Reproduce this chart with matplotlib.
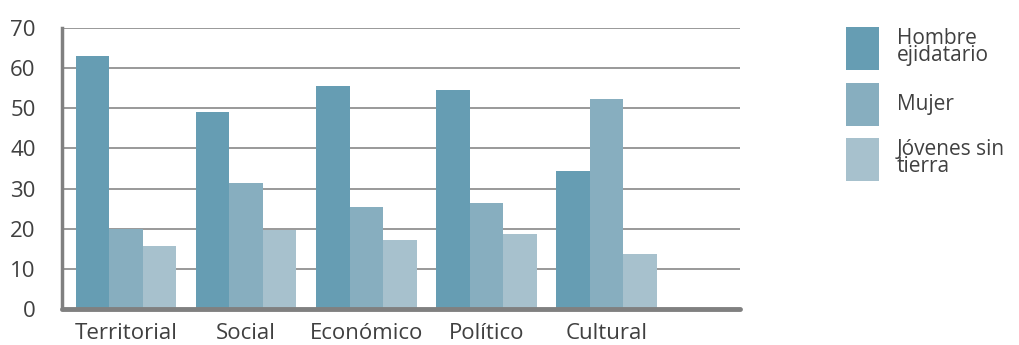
import matplotlib
matplotlib.use("Agg")
import matplotlib.pyplot as plt
import numpy as np

# values
categories = ["Territorial", "Social", "Económico", "Político", "Cultural"]
series_names = ["Hombre\nejidatario", "Mujer", "Jóvenes sin\ntierra"]
hombre = [63, 49, 55.5, 54.5, 34.5]
mujer = [20, 31.3, 25.5, 26.5, 52.3]
jovenes = [15.8, 19.8, 17.3, 18.8, 13.8]
y_ticks = [0, 10, 20, 30, 40, 50, 60, 70]

colors = ["#669db3", "#87aebf", "#a7c1cd"]
text_color = "#404040"
axis_gray = "#808080"

plt.rcParams["font.family"] = ["Open Sans", "DejaVu Sans"]

fig = plt.figure(figsize=(10.19, 3.45), dpi=100)
ax = fig.add_axes([0.0608, 0.104, 0.6655, 0.815])

x = np.arange(len(categories))
width = 0.279
for i, (vals, name) in enumerate(zip([hombre, mujer, jovenes], series_names)):
    ax.bar(x + (i - 1) * width, vals, width, color=colors[i], label=name, zorder=3)

ax.set_xlim(-0.533, 5.11)
ax.set_ylim(0, 70)
ax.set_yticks(y_ticks)
ax.set_xticks(x)
ax.set_xticklabels(categories)
ax.tick_params(axis="both", length=0, labelsize=16, colors=text_color)
ax.tick_params(axis="y", pad=19)
ax.tick_params(axis="x", pad=10)

ax.yaxis.grid(True, color="#888888", linewidth=1.2, zorder=0)
ax.set_axisbelow(True)
for side in ["top", "right"]:
    ax.spines[side].set_visible(False)
ax.spines["left"].set_color(axis_gray)
ax.spines["left"].set_linewidth(2.5)
ax.spines["bottom"].set_color(axis_gray)
ax.spines["bottom"].set_linewidth(3.5)
ax.spines["bottom"].set_capstyle("round")
ax.spines["bottom"].set_zorder(4)

leg = fig.legend(loc="upper left", bbox_to_anchor=(0.83, 0.921), frameon=False,
                 fontsize=15, handlelength=1.6, handleheight=2.8,
                 labelspacing=0.6, handletextpad=0.85, borderpad=0, borderaxespad=0)
for t in leg.get_texts():
    t.set_color(text_color)
    t.set_linespacing(0.8)

fig.savefig("out.png", dpi=100)
